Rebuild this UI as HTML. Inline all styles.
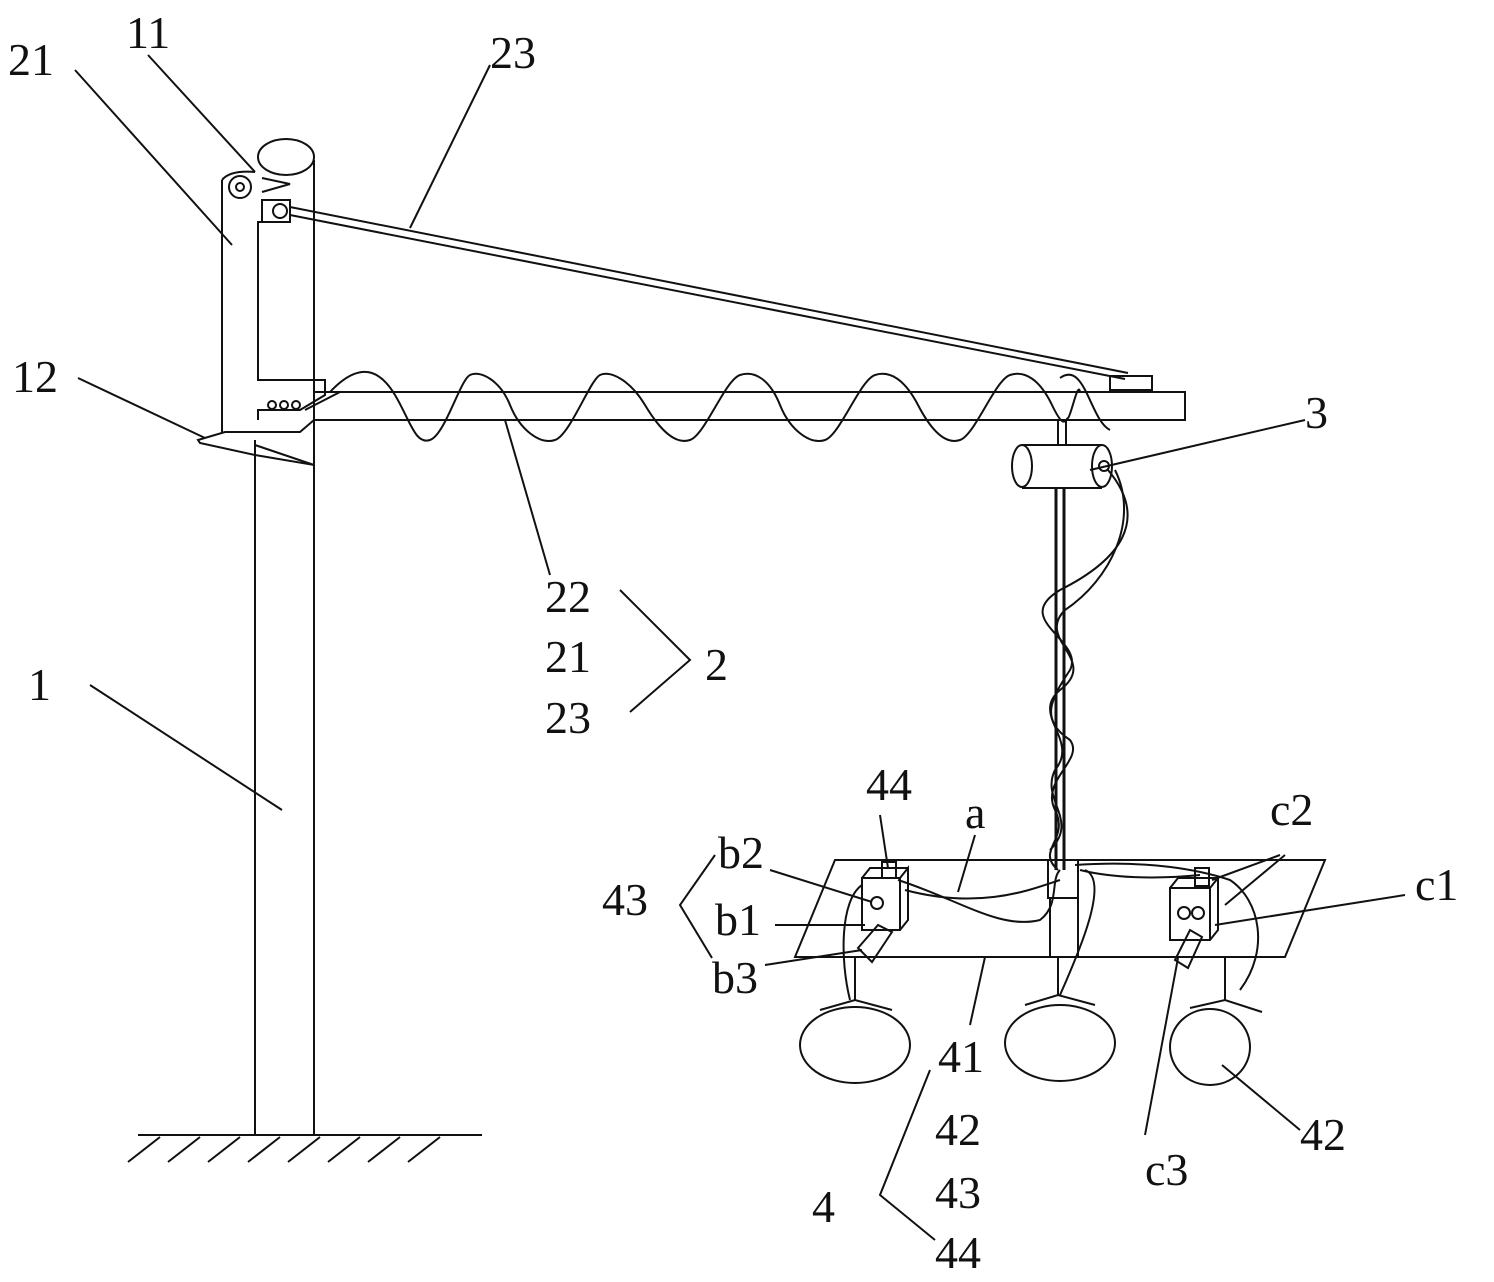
<!DOCTYPE html>
<html><head><meta charset="utf-8"><style>
html,body{margin:0;padding:0;background:#fff;}
svg{display:block;}
text{font-family:"Liberation Serif",serif;font-size:46px;fill:#111;}
</style></head><body>
<svg width="1494" height="1282" viewBox="0 0 1494 1282" xmlns="http://www.w3.org/2000/svg" fill="none" stroke="#111" stroke-width="2">
<!-- ground -->
<line x1="138" y1="1135" x2="482" y2="1135"/>
<g stroke-width="2">
<line x1="160" y1="1137" x2="128" y2="1162"/><line x1="200" y1="1137" x2="168" y2="1162"/>
<line x1="240" y1="1137" x2="208" y2="1162"/><line x1="280" y1="1137" x2="248" y2="1162"/>
<line x1="320" y1="1137" x2="288" y2="1162"/><line x1="360" y1="1137" x2="328" y2="1162"/>
<line x1="400" y1="1137" x2="368" y2="1162"/><line x1="440" y1="1137" x2="408" y2="1162"/>
</g>
<!-- pole 1 -->
<line x1="255" y1="440" x2="255" y2="1135"/>
<line x1="314" y1="420" x2="314" y2="1135"/>
<!-- base plate 12 -->
<polygon points="198,440 225,432 300,432 314,420 314,465 255,455 200,443"/>
<!-- column 21 -->
<line x1="222" y1="180" x2="222" y2="432"/>
<line x1="314" y1="160" x2="314" y2="420"/>
<ellipse cx="286" cy="157" rx="28" ry="18"/>
<path d="M222,180 Q230,170 255,172"/>
<circle cx="240" cy="187" r="11"/><circle cx="240" cy="187" r="4"/>
<path d="M262,178 L290,184 L262,192"/>
<rect x="262" y="200" width="28" height="22"/><circle cx="280" cy="211" r="7"/>
<path d="M262,222 L258,222 L258,380 L325,380 L325,395 L300,410 L258,410 L258,420"/>
<circle cx="272" cy="405" r="4"/><circle cx="284" cy="405" r="4"/><circle cx="296" cy="405" r="4"/>
<!-- rod 23 -->
<line x1="290" y1="207" x2="1128" y2="373"/>
<line x1="290" y1="215" x2="1125" y2="379"/>
<rect x="1110" y="376" width="42" height="14"/>
<!-- arm 22 -->
<polygon points="314,392 1185,392 1185,420 314,420"/>
<line x1="305" y1="410" x2="340" y2="392"/>
<path d="M330,392 C360,360 380,370 395,395 S415,445 430,440 S460,380 470,375 S500,380 510,405 S540,445 555,440 S590,380 600,375 S630,380 645,405 S675,445 690,440 S725,380 740,375 S770,380 780,405 S810,445 825,440 S860,380 875,375 S905,380 918,405 S945,445 960,440 S995,380 1010,375 S1040,380 1052,405 S1065,420 1068,418 S1078,380 1080,392"/>
<path d="M1060,378 C1085,360 1090,420 1110,430"/>
<!-- component 3 -->
<line x1="1058" y1="420" x2="1058" y2="445"/><line x1="1066" y1="420" x2="1066" y2="445"/>
<path d="M1022,445 L1102,445 M1022,488 L1102,488"/>
<ellipse cx="1022" cy="466" rx="10" ry="21"/>
<ellipse cx="1102" cy="466" rx="10" ry="21"/>
<circle cx="1104" cy="466" r="5"/>
<!-- vertical rod -->
<line x1="1056" y1="488" x2="1056" y2="870" stroke-width="3"/>
<line x1="1064" y1="488" x2="1064" y2="870" stroke-width="3"/>
<!-- helical cable -->
<path d="M1108,470 C1150,520 1120,560 1060,590 C1010,620 1085,640 1070,670 C1050,700 1040,720 1070,740 C1085,760 1040,780 1055,810 C1070,840 1035,850 1058,870"/>
<path d="M1115,470 C1140,520 1110,580 1065,610 C1035,640 1100,660 1060,690 C1030,715 1080,740 1055,770 C1040,800 1080,820 1050,850"/>
<!-- platform 41 -->
<polygon points="835,860 1325,860 1285,957 795,957"/>
<!-- pads 42 -->
<line x1="855" y1="957" x2="855" y2="1000"/><path d="M820,1010 L855,1000 L892,1010"/>
<ellipse cx="855" cy="1045" rx="55" ry="38"/>
<line x1="1058" y1="957" x2="1058" y2="995"/><path d="M1025,1005 L1058,995 L1095,1005"/>
<ellipse cx="1060" cy="1043" rx="55" ry="38"/>
<line x1="1225" y1="957" x2="1225" y2="1000"/><path d="M1190,1008 L1225,1000 L1262,1012"/>
<ellipse cx="1210" cy="1047" rx="40" ry="38"/>
<!-- blocks 44 -->
<path d="M862,878 L900,878 L908,868 L908,920 L900,930 L862,930 Z M862,878 L870,868 L908,868 M900,878 L900,930"/>
<circle cx="877" cy="903" r="6"/>
<rect x="882" y="862" width="14" height="16"/>
<path d="M858,948 L878,925 L892,932 L872,962 Z"/>
<path d="M1170,888 L1210,888 L1218,878 L1218,930 L1210,940 L1170,940 Z M1170,888 L1178,878 L1218,878 M1210,888 L1210,940"/>
<circle cx="1184" cy="913" r="6"/><circle cx="1198" cy="913" r="6"/>
<rect x="1195" y="868" width="14" height="18"/>
<path d="M1175,960 L1190,930 L1202,937 L1188,968 Z"/>
<!-- center block -->
<rect x="1048" y="860" width="30" height="38"/>
<line x1="1050" y1="898" x2="1050" y2="957"/><line x1="1078" y1="898" x2="1078" y2="957"/>
<!-- wires a -->
<path d="M898,880 C960,900 1000,930 1040,920 C1060,905 1050,880 1060,870"/>
<path d="M905,890 C980,910 1030,890 1060,880"/>
<path d="M1075,865 C1150,860 1200,870 1230,880 C1260,900 1270,950 1240,990"/>
<path d="M1080,870 C1120,880 1170,878 1200,875"/>
<path d="M1085,870 C1110,880 1080,950 1060,995"/>
<path d="M862,885 C840,900 840,960 850,1000"/>
<!-- leader lines -->
<line x1="75" y1="70" x2="232" y2="245"/>
<line x1="148" y1="55" x2="255" y2="172"/>
<line x1="490" y1="65" x2="410" y2="228"/>
<line x1="78" y1="378" x2="205" y2="438"/>
<line x1="255" y1="445" x2="314" y2="465"/>
<line x1="1305" y1="420" x2="1090" y2="470"/>
<line x1="505" y1="420" x2="550" y2="575"/>
<polyline points="620,590 690,660 630,712"/>
<line x1="90" y1="685" x2="282" y2="810"/>
<line x1="880" y1="815" x2="888" y2="868"/>
<line x1="975" y1="835" x2="958" y2="892"/>
<polyline points="715,855 680,905 712,958"/>
<line x1="770" y1="870" x2="872" y2="902"/>
<line x1="775" y1="925" x2="865" y2="925"/>
<line x1="765" y1="965" x2="862" y2="950"/>
<line x1="985" y1="957" x2="970" y2="1025"/>
<line x1="1280" y1="855" x2="1212" y2="880"/>
<line x1="1285" y1="855" x2="1225" y2="905"/>
<line x1="1405" y1="895" x2="1215" y2="925"/>
<line x1="1178" y1="958" x2="1145" y2="1135"/>
<line x1="1300" y1="1130" x2="1222" y2="1065"/>
<polyline points="930,1070 880,1195 935,1240"/>
<!-- labels -->
<g stroke="none">
<text x="8" y="75">21</text>
<text x="126" y="48">11</text>
<text x="490" y="68">23</text>
<text x="12" y="392">12</text>
<text x="1305" y="428">3</text>
<text x="545" y="612">22</text>
<text x="545" y="672">21</text>
<text x="705" y="680">2</text>
<text x="545" y="733">23</text>
<text x="28" y="700">1</text>
<text x="866" y="800">44</text>
<text x="965" y="828">a</text>
<text x="1270" y="825">c2</text>
<text x="1415" y="900">c1</text>
<text x="718" y="868">b2</text>
<text x="602" y="915">43</text>
<text x="715" y="935">b1</text>
<text x="712" y="993">b3</text>
<text x="938" y="1072">41</text>
<text x="935" y="1145">42</text>
<text x="935" y="1208">43</text>
<text x="935" y="1268">44</text>
<text x="812" y="1222">4</text>
<text x="1145" y="1185">c3</text>
<text x="1300" y="1150">42</text>
</g>
</svg>
</body></html>
